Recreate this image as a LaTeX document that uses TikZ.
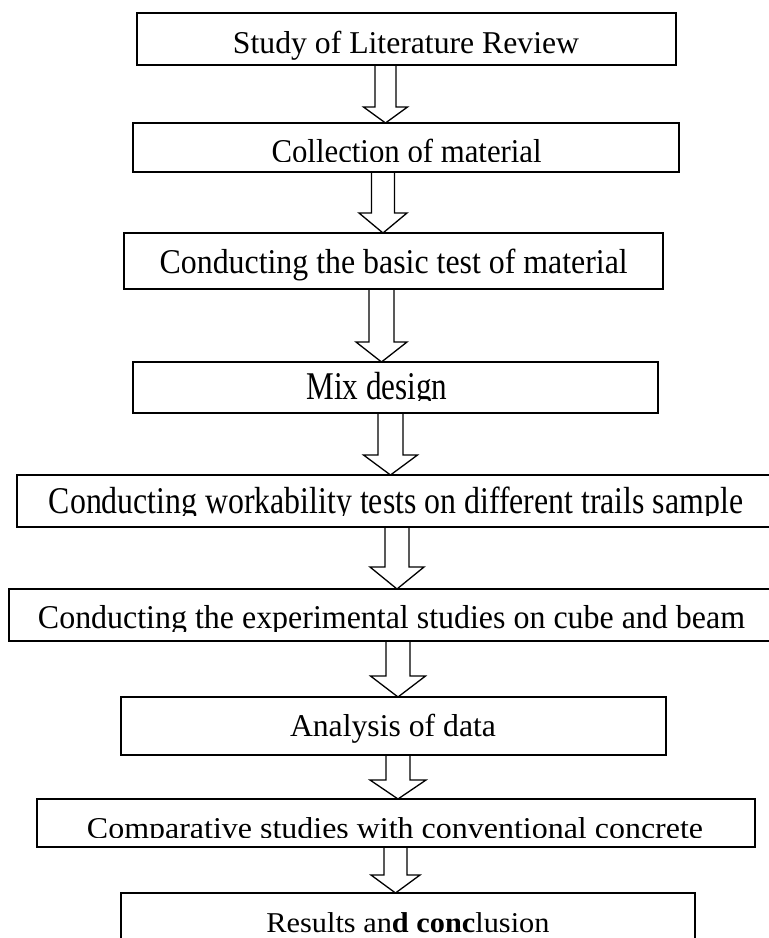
\documentclass[tikz,border=0pt]{standalone}
\usepackage{fontspec}
\setmainfont{Liberation Serif}
\usetikzlibrary{calc}
\newcommand\fitt[3]{\resizebox{#1pt}{#2pt}{\smash{#3}\rule{0pt}{0.662em}}}
\newcommand\blockarrow[6]{%
  \draw[blockarr] let \p1=(#1.south), \p2=(#2.north) in
    (#3-#4,\y1) -- (#3-#4,\y2+#6) -- (#3-#5,\y2+#6) -- (#3,\y2)
    -- (#3+#5,\y2+#6) -- (#3+#4,\y2+#6) -- (#3+#4,\y1) -- cycle;}
\tikzset{
  stepbox/.style={draw=black, line width=1.5pt, inner sep=0pt, outer sep=0pt, rectangle},
  steptext/.style={anchor=base, inner sep=0pt, outer sep=0pt, text=black},
  blockarr/.style={draw=black, line width=1.3pt, line join=miter}
}
\begin{document}
\begin{tikzpicture}[x=1pt,y=-1pt]
\useasboundingbox (0,0) rectangle (769,938);
\fill[white] (0,0) rectangle (769,938);
\begin{scope}
\clip (0,0) rectangle (769,938);
% boxes
\node[stepbox, minimum width=539, minimum height=52] (b1) at (406.5,39) {};
\node[stepbox, minimum width=546, minimum height=49] (b2) at (406,147.5) {};
\node[stepbox, minimum width=539, minimum height=56] (b3) at (393.5,261) {};
\node[stepbox, minimum width=525, minimum height=51] (b4) at (395.5,387.5) {};
\node[stepbox, minimum width=758, minimum height=52] (b5) at (396,501) {};
\node[stepbox, minimum width=766, minimum height=52] (b6) at (392,615) {};
\node[stepbox, minimum width=545, minimum height=58] (b7) at (393.5,726) {};
\node[stepbox, minimum width=718, minimum height=48] (b8) at (396,823) {};
\node[stepbox, minimum width=574, minimum height=52] (b9) at (408,919) {};
% texts
\node[steptext] (t1) at (406,53) {\fitt{346}{21}{Study of Literature Review}};
\begin{scope}
\clip (133,123) rectangle (679,161.5);
\node[steptext] (t2) at (406.6,162) {\fitt{270}{22}{Collection of material}};
\end{scope}
\node[steptext] (t3) at (393.7,273) {\fitt{468}{23}{Conducting the basic test of material}};
\begin{scope}
\clip (133,362) rectangle (658,400);
\node[steptext] (t4) at (377,399) {\fitt{141}{26}{Mix design}};
\end{scope}
\begin{scope}
\clip (17,475) rectangle (775,515.5);
\node[steptext] (t5) at (396,513) {\fitt{694}{25}{Conducting workability tests on different trails sample}};
\end{scope}
\begin{scope}
\clip (9,589) rectangle (775,631);
\node[steptext] (t6) at (391.5,628) {\fitt{707}{22}{Conducting the experimental studies on cube and beam}};
\end{scope}
\node[steptext] (t7) at (393,736) {\fitt{206}{21}{Analysis of data}};
\begin{scope}
\clip (37,799) rectangle (755,837);
\node[steptext] (t8) at (395,838) {\fitt{616}{20}{Comparative studies with conventional concrete}};
\end{scope}
\node[steptext] (t9) at (408,932) {\fitt{283}{19}{Results an\textbf{d conc}lusion}};
% block arrows
\blockarrow{b1}{b2}{385.5}{10.5}{22}{16}
\blockarrow{b2}{b3}{383}{11.5}{24}{20}
\blockarrow{b3}{b4}{381.5}{12.5}{25.5}{20}
\blockarrow{b4}{b5}{390.5}{12.5}{27}{20}
\blockarrow{b5}{b6}{397}{12}{27}{22}
\blockarrow{b6}{b7}{398}{12}{27.5}{21}
\blockarrow{b7}{b8}{398}{12}{28}{19}
\blockarrow{b8}{b9}{395.5}{11.5}{24.5}{18}
\end{scope}
\end{tikzpicture}
\end{document}
